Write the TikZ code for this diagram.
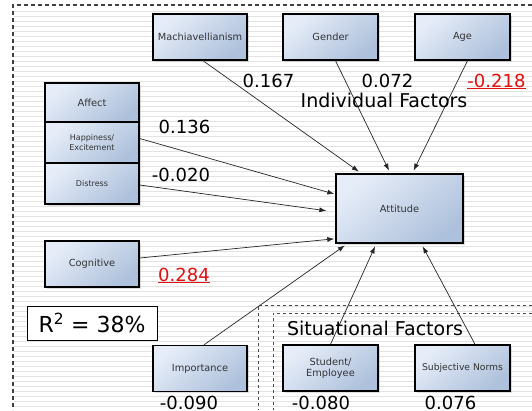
\documentclass[tikz,border=0pt]{standalone}
\usepackage{fontspec}
\setmainfont{DejaVu Sans}
\usetikzlibrary{arrows.meta,shadows}
\definecolor{boxtl}{HTML}{E6EDF8}
\definecolor{boxbr}{HTML}{AEC1DC}
\definecolor{boxtext}{HTML}{333333}
\definecolor{stripe}{HTML}{E3E3E3}
\definecolor{coefred}{HTML}{E01010}
\tikzset{
  factor/.style={draw=black, line width=1.4pt, top color=boxtl, bottom color=boxbr,
    shading angle=40, text=boxtext, font=\fontsize{9.8}{11}\selectfont,
    inner sep=1pt, align=center,
    drop shadow={shadow xshift=1.5pt, shadow yshift=-1.5pt, opacity=0.25}},
  small/.style={font=\fontsize{8}{9.6}\selectfont},
  link/.style={draw=black!85, line width=0.7pt, -{Latex[length=7pt,width=5pt]}},
  coef/.style={font=\fontsize{18}{20}\selectfont, anchor=base, inner sep=0pt},
  redcoef/.style={coef, text=coefred},
  group/.style={font=\fontsize{19}{22}\selectfont, anchor=base, inner sep=0pt},
  outerdash/.style={draw=black!75, line width=1.2pt, dash pattern=on 4pt off 3pt},
  innerdash/.style={draw=black!70, line width=0.9pt, dash pattern=on 3pt off 3pt},
}
\begin{document}
\begin{tikzpicture}[x=1pt,y=-1pt]
\useasboundingbox (0,0) rectangle (532,410);
\fill[white] (0,0) rectangle (532,410);
% striped background
\foreach \k in {0,...,80} {
  \draw[stripe, line width=0.8pt] (14,{11.7+5*\k}) -- (532,{11.7+5*\k});
}
% dashed group frames
\draw[outerdash] (532,5) -- (13,5) -- (13,410);
\draw[innerdash] (532,305) -- (258,305) -- (258,410);
\draw[innerdash] (532,313) -- (273,313) -- (273,410);

% nodes
\node[factor, minimum width=94pt, minimum height=46pt] (mach) at (200,37) {Machiavellianism};
\node[factor, minimum width=95pt, minimum height=46pt] (gender) at (330.5,37) {Gender};
\node[factor, minimum width=95pt, minimum height=46pt] (age) at (462.5,37) {Age};
\node[factor, minimum width=94pt, minimum height=39pt] (affect) at (92,102.5) {Affect};
\node[factor, small, minimum width=94pt, minimum height=41pt] (happy) at (92,142.5) {Happiness/\\Excitement};
\node[factor, small, minimum width=94pt, minimum height=41pt] (distress) at (92,183.5) {Distress};
\node[factor, minimum width=94pt, minimum height=46pt] (cog) at (92,264) {Cognitive};
\node[factor, minimum width=127pt, minimum height=69pt] (att) at (399.5,208.5) {Attitude};
\node[factor, minimum width=94pt, minimum height=46pt] (imp) at (200,368.5) {Importance};
\node[factor, minimum width=95pt, minimum height=46pt] (stud) at (330.5,368) {Student/\\Employee};
\node[factor, font=\fontsize{9.2}{11}\selectfont, minimum width=95pt, minimum height=46pt] (norms) at (462.5,368) {Subjective Norms};
\node[draw=black, line width=0.8pt, fill=white, minimum width=130pt, minimum height=34pt,
  font=\fontsize{22}{24}\selectfont] (rsq) at (92,323) {R\textsuperscript{2} = 38\%};

% connectors
\draw[link, shorten >=3pt] ([xshift=3pt]mach.south) -- ([xshift=26pt]att.north west);
\draw[link, shorten >=3pt] ([xshift=5pt]gender.south) -- ([xshift=55pt]att.north west);
\draw[link, shorten >=3pt] ([xshift=5pt]age.south) -- ([xshift=77pt]att.north west);
\draw[link, shorten >=1pt] ([yshift=4pt]happy.east) -- ([yshift=-21pt]att.north west);
\draw[link, shorten >=9pt] ([yshift=-1.5pt]distress.east) -- ([yshift=-3.5pt]att.west);
\draw[link, shorten >=1pt] ([yshift=6pt]cog.east) -- ([yshift=5pt]att.south west);
\draw[link, shorten >=3pt] ([xshift=4pt]imp.north) -- ([xshift=12pt]att.south west);
\draw[link, shorten >=3pt] (stud.north) -- ([xshift=41pt]att.south west);
\draw[link, shorten >=3pt] ([xshift=12.5pt]norms.north) -- ([xshift=86pt]att.south west);

% coefficients and group labels
\node[coef] (cmach) at (268.5,87) {0.167};
\node[coef] (cgender) at (387.5,87) {0.072};
\node[redcoef] (cage) at (496.5,87) {\underline{-0.218}};
\node[group] (indiv) at (384,107) {Individual Factors};
\node[coef] (chappy) at (184.5,133.5) {0.136};
\node[coef] (cdist) at (181,181) {-0.020};
\node[redcoef] (ccog) at (184,281) {\underline{0.284}};
\node[group] (situ) at (375,335) {Situational Factors};
\node[coef] (cimp) at (189,409) {-0.090};
\node[coef] (cstud) at (321,409) {-0.080};
\node[coef] (cnorms) at (450.5,409) {0.076};
\end{tikzpicture}
\end{document}
